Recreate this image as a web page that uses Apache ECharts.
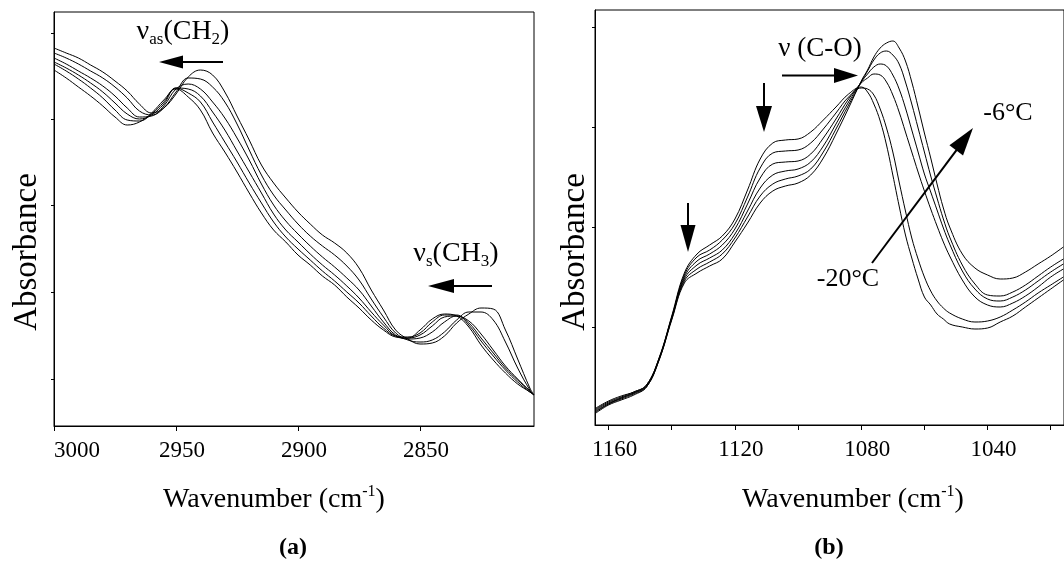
<!DOCTYPE html>
<html><head><meta charset="utf-8">
<script src="https://cdn.jsdelivr.net/npm/echarts@6/dist/echarts.min.js"></script>
<style>html,body{margin:0;padding:0;background:#fff}#c{width:1064px;height:565px}</style>
</head><body><div id="c"></div>
<script>
// ---------- Panel (a): C-H stretching region ----------
const wnA = [3000,2995,2990,2985,2980,2975,2970,2965,2960,2955,
             2950,2945,2940,2935,2930,2925,2920,2915,2910,2905,
             2900,2895,2890,2885,2880,2875,2870,2865,2860,2855,
             2850,2845,2840,2835,2830,2825,2820,2815,2810,2805,2803.3];
const specA1 = [0.378,0.373,0.368,0.361,0.354,0.345,0.335,0.322,0.313,0.318,
                0.332,0.349,0.356,0.351,0.334,0.310,0.286,0.261,0.243,0.228,
                0.214,0.202,0.191,0.183,0.173,0.158,0.136,0.116,0.096,0.087,
                0.082,0.083,0.090,0.103,0.112,0.118,0.117,0.096,0.067,0.038,0.031];
const specA2 = [0.373,0.368,0.362,0.355,0.348,0.339,0.328,0.315,0.311,0.318,
                0.334,0.348,0.347,0.339,0.324,0.302,0.276,0.251,0.231,0.216,
                0.202,0.190,0.180,0.171,0.160,0.146,0.127,0.109,0.093,0.086,
                0.084,0.086,0.094,0.106,0.114,0.114,0.106,0.084,0.058,0.036,0.031];
const specA3 = [0.368,0.362,0.355,0.348,0.340,0.330,0.318,0.309,0.310,0.320,
                0.337,0.342,0.337,0.324,0.308,0.288,0.266,0.242,0.221,0.205,
                0.192,0.180,0.169,0.159,0.148,0.136,0.120,0.104,0.091,0.087,
                0.088,0.094,0.104,0.110,0.105,0.092,0.076,0.060,0.047,0.035,0.031];
const specA4 = [0.364,0.358,0.351,0.343,0.334,0.323,0.312,0.307,0.311,0.322,
                0.338,0.337,0.330,0.314,0.296,0.275,0.254,0.233,0.212,0.196,
                0.184,0.172,0.161,0.151,0.140,0.128,0.114,0.101,0.090,0.088,
                0.091,0.100,0.109,0.110,0.103,0.088,0.073,0.058,0.046,0.035,0.031];
const specA5 = [0.362,0.355,0.347,0.338,0.328,0.316,0.306,0.305,0.312,0.324,
                0.338,0.333,0.324,0.304,0.284,0.264,0.243,0.223,0.204,0.189,
                0.177,0.166,0.155,0.145,0.134,0.123,0.110,0.098,0.090,0.089,
                0.093,0.104,0.111,0.111,0.101,0.085,0.070,0.056,0.044,0.034,0.031];
const specA6 = [0.356,0.348,0.339,0.330,0.320,0.309,0.301,0.304,0.313,0.326,
                0.337,0.329,0.316,0.293,0.274,0.254,0.233,0.213,0.196,0.184,
                0.171,0.161,0.150,0.141,0.129,0.118,0.106,0.096,0.089,0.088,
                0.096,0.107,0.112,0.110,0.099,0.081,0.066,0.053,0.042,0.034,0.031];

// ---------- Panel (b): C-O stretching region ----------
const wnB = [1164,1160,1156,1152,1148,1144,1140,1136,1132,1128,1124,1120,1116,1112,1108,1104,1100,1096,1092,1088,1084,
             1080,1078,1076,1074,1072,1070,1068,1066,1064,1062,1060,1058,1056,1054,1052,
             1048,1044,1040,1036,1032,1028,1024,1020,1016];
const specB1 = [0.017,0.024,0.029,0.033,0.040,0.067,0.109,0.152,0.171,0.180,0.189,0.206,0.235,0.266,0.282,0.285,0.286,0.293,0.305,0.318,0.331,
                0.338,0.333,0.321,0.304,0.280,0.250,0.219,0.190,0.167,0.146,0.128,0.120,0.111,0.106,0.101,
                0.098,0.096,0.097,0.103,0.109,0.118,0.127,0.136,0.145];
const specB2 = [0.016,0.023,0.028,0.033,0.040,0.067,0.108,0.150,0.168,0.175,0.185,0.201,0.228,0.257,0.272,0.274,0.275,0.282,0.296,0.312,0.328,
                0.337,0.336,0.330,0.316,0.297,0.273,0.243,0.214,0.187,0.166,0.148,0.134,0.124,0.117,0.112,
                0.106,0.103,0.104,0.108,0.115,0.123,0.132,0.140,0.148];
const specB3 = [0.015,0.022,0.027,0.032,0.039,0.066,0.107,0.148,0.164,0.171,0.180,0.196,0.221,0.247,0.261,0.263,0.264,0.271,0.287,0.306,0.326,
                0.342,0.347,0.351,0.350,0.343,0.330,0.313,0.293,0.273,0.253,0.234,0.216,0.199,0.183,0.169,
                0.145,0.128,0.120,0.118,0.122,0.129,0.138,0.148,0.156];
const specB4 = [0.014,0.021,0.027,0.032,0.039,0.066,0.107,0.146,0.160,0.167,0.175,0.191,0.214,0.237,0.250,0.254,0.256,0.263,0.279,0.301,0.323,
                0.343,0.351,0.358,0.361,0.359,0.350,0.336,0.317,0.295,0.273,0.251,0.233,0.215,0.197,0.181,
                0.154,0.136,0.126,0.124,0.128,0.135,0.144,0.153,0.161];
const specB5 = [0.013,0.021,0.026,0.031,0.038,0.065,0.106,0.144,0.156,0.163,0.171,0.187,0.208,0.229,0.241,0.246,0.249,0.256,0.273,0.296,0.320,
                0.343,0.354,0.365,0.372,0.374,0.370,0.361,0.343,0.321,0.297,0.273,0.249,0.227,0.206,0.188,
                0.160,0.141,0.130,0.129,0.133,0.140,0.149,0.158,0.166];
const specB6 = [0.012,0.020,0.025,0.030,0.038,0.065,0.105,0.142,0.152,0.159,0.166,0.183,0.202,0.222,0.234,0.239,0.242,0.250,0.267,0.291,0.317,
                0.344,0.355,0.368,0.377,0.382,0.384,0.377,0.364,0.343,0.318,0.292,0.267,0.241,0.217,0.198,
                0.171,0.157,0.150,0.146,0.147,0.153,0.161,0.169,0.178];

// ---------- Tick values ----------
const xTicksA = [3000, 2950, 2900, 2850];
const xTicksB = [1160, 1140, 1120, 1100, 1080, 1060, 1040, 1020];
const xLabelsB = [1160, 1120, 1080, 1040];
const yTicksA = [0.047, 0.134, 0.221, 0.307, 0.393];
const yTicksB = [0.098, 0.198, 0.298, 0.398];

const FONT = "'Liberation Serif','Times New Roman',serif";
const chart = echarts.init(document.getElementById('c'), null, {renderer: 'canvas'});

const seriesA = [specA1, specA2, specA3, specA4, specA5, specA6];
const seriesB = [specB1, specB2, specB3, specB4, specB5, specB6];
const series = [];
seriesA.forEach((s, k) => series.push({
  name: 'a' + (k + 1), type: 'line', xAxisIndex: 0, yAxisIndex: 0,
  data: wnA.map((w, i) => [w, s[i]]), showSymbol: false, smooth: 0.4,
  lineStyle: {color: '#000', width: 1}, silent: true
}));
seriesB.forEach((s, k) => series.push({
  name: 'b' + (k + 1), type: 'line', xAxisIndex: 1, yAxisIndex: 1,
  data: wnB.map((w, i) => [w, s[i]]), showSymbol: false, smooth: 0.4,
  lineStyle: {color: '#000', width: 1}, silent: true
}));

const labelRich = {
  n: {fontFamily: FONT, fontSize: 23, color: '#000', padding: [0, 0, 0, 12]},
  f: {fontFamily: FONT, fontSize: 23, color: '#000', padding: [0, 0, 0, 46]}
};
function xAxisCfg(gi, min, max, ticks, labels, firstVal) {
  return {
    type: 'value', gridIndex: gi, min, max, inverse: true,
    axisLine: {show: true, lineStyle: {color: '#000', width: 1}},
    axisTick: {show: true, customValues: ticks, length: 5, inside: false, lineStyle: {color: '#000'}},
    axisLabel: {show: true, customValues: labels, color: '#000', fontFamily: FONT,
      fontSize: 23, lineHeight: 24, margin: 13, rich: labelRich,
      formatter: v => (Math.round(v) === firstVal ? '{f|' : '{n|') + String(Math.round(v)) + '}'},
    splitLine: {show: false}
  };
}
function yAxisCfg(gi, max, ticks) {
  return {
    type: 'value', gridIndex: gi, min: 0, max,
    axisLine: {show: true, lineStyle: {color: '#000', width: 1}},
    axisTick: {show: true, customValues: ticks, length: 3, lineStyle: {color: '#000'}},
    axisLabel: {show: false}, splitLine: {show: false}
  };
}

function txt(x, y, text, size, extra, rot) {
  return {type: 'text', x, y, rotation: rot || 0, silent: true,
    style: Object.assign({text, fill: '#000', fontFamily: FONT, fontSize: size,
      align: 'center', verticalAlign: 'middle'}, extra || {})};
}
function richT(x, y, text, mainSize, subSize) {
  return {type: 'text', x, y, silent: true,
    style: {text, fill: '#000', fontFamily: FONT, fontSize: mainSize, align: 'center', verticalAlign: 'middle',
      rich: {
        m: {fontSize: mainSize, fontFamily: FONT, lineHeight: mainSize + 4, fill: '#000'},
        s: {fontSize: subSize, fontFamily: FONT, lineHeight: 12, verticalAlign: 'bottom', fill: '#000'},
        p: {fontSize: subSize, fontFamily: FONT, lineHeight: 12, verticalAlign: 'top', fill: '#000'}
      }}};
}
function arrow(x1, y1, x2, y2, headLen, halfW) {
  const dx = x2 - x1, dy = y2 - y1, L = Math.hypot(dx, dy);
  const ux = dx / L, uy = dy / L, bx = x2 - ux * headLen, by = y2 - uy * headLen;
  return [
    {type: 'line', silent: true, shape: {x1, y1, x2: bx + ux * 2, y2: by + uy * 2}, style: {stroke: '#000', lineWidth: 2}},
    {type: 'polygon', silent: true, shape: {points: [[x2, y2], [bx - uy * halfW, by + ux * halfW], [bx + uy * halfW, by - ux * halfW]]},
      style: {fill: '#000'}}
  ];
}

const graphics = [
  richT(183, 32, '{m|ν}{s|as}{m|(CH}{s|2}{m|)}', 28, 17),
  ...arrow(223, 62, 159, 62, 24, 6.5),
  richT(456, 254, '{m|ν}{s|s}{m|(CH}{s|3}{m|)}', 28, 17),
  ...arrow(492, 286, 428, 286, 26, 7),
  txt(820, 49, 'ν (C-O)', 27),
  ...arrow(782, 75.5, 858, 75.5, 24, 7.5),
  ...arrow(688, 203, 688, 252, 27, 7.5),
  ...arrow(764, 83, 764, 132, 26, 8),
  ...arrow(872, 263, 973, 128, 28, 8.5),
  txt(1008, 113, '-6°C', 26),
  txt(848, 279, '-20°C', 26),
  richT(274, 500, '{m|Wavenumber (cm}{p|-1}{m|)}', 28, 16),
  richT(853, 500, '{m|Wavenumber (cm}{p|-1}{m|)}', 28, 16),
  txt(27, 252, 'Absorbance', 33, {}, Math.PI / 2),
  txt(575, 252, 'Absorbance', 33, {}, Math.PI / 2),
  txt(293, 548, '(a)', 24, {fontWeight: 'bold'}),
  txt(829, 548, '(b)', 24, {fontWeight: 'bold'})
];

chart.setOption({
  animation: false,
  backgroundColor: '#fff',
  grid: [
    {left: 54, top: 12, width: 480, height: 414, show: true, borderColor: '#000', borderWidth: 1, containLabel: false},
    {left: 595, top: 10, width: 479, height: 415, show: true, borderColor: '#000', borderWidth: 1, containLabel: false}
  ],
  xAxis: [
    xAxisCfg(0, 2803.3, 3000, xTicksA, xTicksA, 3000),
    xAxisCfg(1, 1015.8, 1164.3, xTicksB, xLabelsB, -1)
  ],
  yAxis: [yAxisCfg(0, 0.414, yTicksA), yAxisCfg(1, 0.415, yTicksB)],
  series,
  graphic: graphics
});
</script></body></html>
